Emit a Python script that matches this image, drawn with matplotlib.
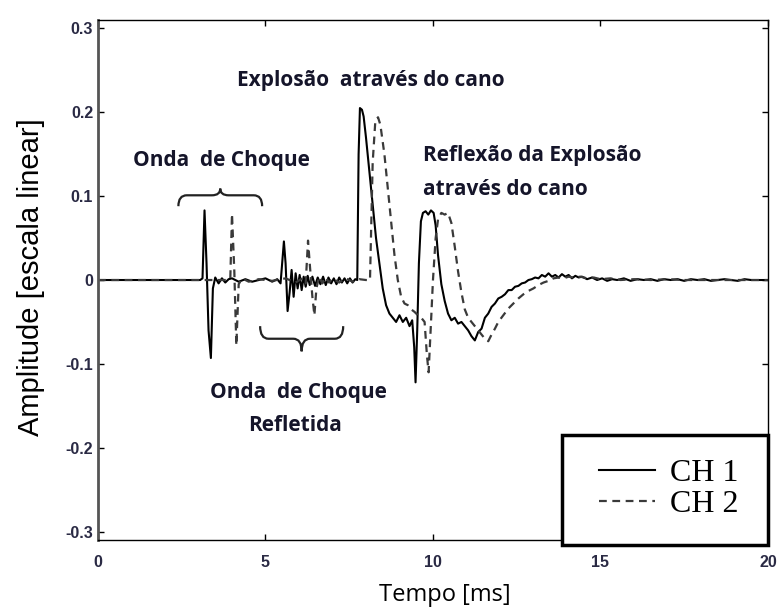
import matplotlib
matplotlib.use("Agg")
import matplotlib.pyplot as plt
from matplotlib.path import Path
from matplotlib.patches import PathPatch, Rectangle

# ---------------- data ----------------
t_ch1 = [0, 3.05, 3.12, 3.18, 3.24, 3.30, 3.37, 3.43, 3.5, 3.6, 3.7, 3.8, 3.9, 4.0, 4.2, 4.4, 4.6, 4.8,
         5.0, 5.2, 5.35, 5.45, 5.55, 5.60, 5.66, 5.72, 5.78, 5.84, 5.90, 5.96, 6.02, 6.08, 6.14, 6.20,
         6.26, 6.32, 6.40, 6.48, 6.56, 6.64, 6.72, 6.80, 6.88, 6.96, 7.04, 7.12, 7.20, 7.28, 7.36, 7.44,
         7.52, 7.60, 7.68, 7.74, 7.78, 7.82, 7.88, 7.93, 8.0, 8.1, 8.2, 8.3, 8.4, 8.5, 8.6, 8.7, 8.8, 8.9,
         9.0, 9.1, 9.2, 9.3, 9.38, 9.44, 9.48, 9.53, 9.58, 9.64, 9.70, 9.78, 9.86, 9.94, 10.02, 10.08,
         10.15, 10.25, 10.35, 10.45, 10.55, 10.65, 10.75, 10.85, 10.95, 11.05, 11.15, 11.25, 11.35,
         11.45, 11.55, 11.65, 11.75, 11.85, 11.95, 12.05, 12.15, 12.25, 12.35, 12.45, 12.55, 12.65,
         12.75, 12.85, 12.95, 13.05, 13.15, 13.25, 13.35, 13.45, 13.55, 13.65, 13.75, 13.85, 13.95,
         14.05, 14.15, 14.25, 14.35, 14.45, 14.6, 14.75, 14.9, 15.05, 15.2, 15.35, 15.5, 15.7, 15.9,
         16.1, 16.3, 16.5, 16.7, 16.9, 17.1, 17.3, 17.5, 17.7, 17.9, 18.1, 18.3, 18.5, 18.7, 18.9,
         19.1, 19.3, 19.5, 19.7, 20]
a_ch1 = [0, 0, 0.002, 0.083, 0.02, -0.06, -0.093, -0.01, 0.003, -0.004, 0.002, -0.003, 0.001, 0.002,
         -0.002, 0.001, -0.002, 0.0, 0.002, -0.002, 0.001, -0.004, 0.046, 0.02, -0.037, -0.015, 0.012,
         -0.02, 0.008, -0.01, 0.006, -0.012, 0.004, -0.008, 0.005, -0.006, 0.004, -0.007, 0.003, -0.005,
         0.004, -0.006, 0.003, -0.004, 0.002, -0.005, 0.003, -0.003, 0.002, -0.004, 0.002, -0.003, 0.001,
         0.0, 0.15, 0.205, 0.203, 0.195, 0.17, 0.13, 0.09, 0.05, 0.02, -0.01, -0.03, -0.04, -0.045,
         -0.05, -0.042, -0.05, -0.045, -0.055, -0.048, -0.08, -0.122, -0.06, 0.02, 0.07, 0.08, 0.082,
         0.078, 0.083, 0.08, 0.065, 0.03, -0.005, -0.025, -0.04, -0.048, -0.045, -0.052, -0.05, -0.055,
         -0.06, -0.067, -0.072, -0.062, -0.058, -0.045, -0.04, -0.032, -0.028, -0.022, -0.02, -0.017,
         -0.012, -0.012, -0.008, -0.007, -0.004, -0.003, 0.0, 0.001, 0.003, 0.002, 0.006, 0.004, 0.008,
         0.004, 0.006, 0.003, 0.007, 0.004, 0.006, 0.002, 0.005, 0.003, 0.004, 0.001, 0.003, 0.0, 0.002,
         -0.001, 0.001, 0.0, 0.002, -0.001, 0.001, 0.0, 0.001, -0.001, 0.001, 0.0, 0.001, -0.001, 0.001,
         0.0, 0.001, -0.001, 0.0, 0.001, 0.0, -0.001, 0.001, 0.0, 0.0, 0.0]

t_ch2 = [0, 3.9, 3.95, 4.0, 4.07, 4.13, 4.2, 4.3, 4.5, 4.8, 5.2, 5.6, 5.9, 6.1, 6.2, 6.27, 6.33, 6.40,
         6.46, 6.52, 6.6, 6.7, 6.8, 6.9, 7.0, 7.2, 7.4, 7.6, 7.8, 8.0, 8.12, 8.2, 8.28, 8.36, 8.43, 8.55,
         8.65, 8.75, 8.85, 8.95, 9.05, 9.15, 9.25, 9.35, 9.45, 9.55, 9.65, 9.75, 9.82, 9.87, 9.93, 10.0,
         10.08, 10.15, 10.25, 10.35, 10.45, 10.55, 10.65, 10.75, 10.85, 10.95, 11.05, 11.15, 11.25,
         11.35, 11.45, 11.55, 11.65, 11.75, 11.85, 11.95, 12.1, 12.25, 12.4, 12.55, 12.7, 12.85, 13.0,
         13.15, 13.3, 13.45, 13.6, 13.75, 13.9, 14.05, 14.2, 14.4, 14.6, 14.8, 15.0, 15.3, 15.6, 16.0,
         16.5, 17.0, 17.5, 18.0, 20]
a_ch2 = [0, 0, 0.002, 0.079, 0.01, -0.078, -0.005, 0.002, -0.002, 0.001, -0.001, 0.002, -0.003, 0.002,
         -0.004, 0.047, 0.015, -0.02, -0.042, -0.01, 0.004, -0.004, 0.003, -0.003, 0.002, -0.003, 0.002,
         -0.002, 0.001, 0.0, 0.0, 0.14, 0.19, 0.194, 0.185, 0.15, 0.11, 0.07, 0.03, 0.0, -0.02, -0.028,
         -0.03, -0.035, -0.038, -0.042, -0.045, -0.05, -0.09, -0.11, -0.06, 0.0, 0.05, 0.072, 0.08,
         0.078, 0.08, 0.068, 0.04, 0.01, -0.015, -0.035, -0.045, -0.05, -0.055, -0.06, -0.065, -0.07,
         -0.073, -0.065, -0.058, -0.05, -0.042, -0.034, -0.028, -0.022, -0.017, -0.013, -0.01, -0.006,
         -0.003, -0.001, 0.002, 0.003, 0.002, 0.004, 0.003, 0.004, 0.002, 0.003, 0.001, 0.002, 0.0,
         0.001, 0.0, 0.001, 0.0, 0.0, 0.0]

series_labels = ["CH 1", "CH 2"]
x_ticks = [0, 5, 10, 15, 20]
x_tick_labels = ["0", "5", "10", "15", "20"]
y_ticks = [-0.3, -0.2, -0.1, 0, 0.1, 0.2, 0.3]
y_tick_labels = ["-0.3", "-0.2", "-0.1", "0", "0.1", "0.2", "0.3"]
x_label = "Tempo [ms]"
y_label = "Amplitude [escala linear]"

# annotations: (text, x_left, y_center)
annotations = [
    ("Explosão  através do cano", 4.16, 0.238),
    ("Onda  de Choque", 1.05, 0.142),
    ("Reflexão da Explosão", 9.69, 0.148),
    ("através do cano", 9.69, 0.108),
    ("Onda  de Choque", 3.35, -0.134),
    ("Refletida", 4.48, -0.174),
]
# braces: (x_start, x_end, y_ends, y_flat, y_tip)
braces = [
    (2.4, 4.9, 0.088, 0.101, 0.109),
    (4.84, 7.32, -0.055, -0.070, -0.085),
]

# ---------------- plot ----------------
fig = plt.figure(figsize=(7.79, 6.13), dpi=100)
ax = fig.add_axes([0.1258, 0.119, 0.86, 0.8484])

ax.plot(t_ch1, a_ch1, color="black", lw=1.5, label=series_labels[0])
ax.plot(t_ch2, a_ch2, color="#3a3a3a", lw=1.6, linestyle=(0, (3.5, 2.5)), label=series_labels[1])

ax.set_xlim(0, 20)
ax.set_ylim(-0.31, 0.31)
ax.set_xticks(x_ticks)
ax.set_xticklabels(x_tick_labels)
ax.set_yticks(y_ticks)
ax.set_yticklabels(y_tick_labels)
ax.tick_params(direction="in", length=4, width=1, top=True, right=True, labelsize=11.5,
               labelcolor="#2a2a44")
ax.tick_params(axis="x", pad=11)
ax.tick_params(axis="y", pad=3.5)
for lab in ax.get_xticklabels() + ax.get_yticklabels():
    lab.set_fontweight("bold")
    lab.set_family("Liberation Sans")

for s in ["top", "right", "bottom"]:
    ax.spines[s].set_linewidth(1.0)
    ax.spines[s].set_color("black")
ax.spines["left"].set_linewidth(2.0)
ax.spines["left"].set_color("#555555")

ax.set_xlabel(x_label, fontsize=17, family="Open Sans", va="center")
ax.xaxis.set_label_coords(0.518, -0.106)
ax.set_ylabel(y_label, fontsize=21, family="Liberation Sans", va="center")
ax.yaxis.set_label_coords(-0.1, 0.506)

for txt, x, y in annotations:
    ax.text(x, y, txt, ha="left", va="center", fontsize=15, family="Open Sans",
            fontweight="bold", color="#15152a")

for x0, x1, ye, yh, yt in braces:
    xm = (x0 + x1) / 2
    r = 0.25
    verts = [(x0, ye), (x0, yh), (x0 + r, yh), (xm - r, yh), (xm, yh), (xm, yt),
             (xm, yh), (xm + r, yh), (x1 - r, yh), (x1, yh), (x1, ye)]
    codes = [Path.MOVETO, Path.CURVE3, Path.CURVE3, Path.LINETO, Path.CURVE3, Path.CURVE3,
             Path.CURVE3, Path.CURVE3, Path.LINETO, Path.CURVE3, Path.CURVE3]
    ax.add_patch(PathPatch(Path(verts, codes), facecolor="none", edgecolor="#222222", lw=1.6))

# legend box
ax.add_patch(Rectangle((0.6925, -0.01), 0.3075, 0.212, transform=ax.transAxes, fill=True,
                       facecolor="white", edgecolor="black", lw=2.5, clip_on=False, zorder=5))
leg = ax.legend(loc="center", bbox_to_anchor=(0.852, 0.098), frameon=False,
                prop={"family": "Liberation Serif", "size": 23}, handlelength=1.75,
                handletextpad=0.45, labelspacing=0.05)
leg.set_zorder(6)

fig.savefig("out.png", dpi=100)
